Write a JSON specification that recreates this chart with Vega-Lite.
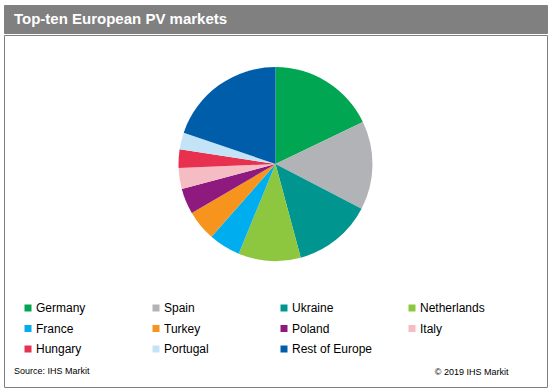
{
  "$schema": "https://vega.github.io/schema/vega-lite/v6.json",
  "padding": {"left": 3, "top": 4, "right": 6, "bottom": 7},
  "background": "white",
  "spacing": 0,
  "title": {"text": "© 2019 IHS Markit", "orient": "bottom", "anchor": "end", "offset": -20, "dx": -39, "fontSize": 9, "font": "Liberation Sans", "fontWeight": "normal", "color": "#000000"},
  "config": {"font": "Liberation Sans", "view": {"stroke": "#808080"}},
  "vconcat": [
    {
      "width": 543,
      "height": 28,
      "view": {"fill": "#808080", "stroke": "#808080"},
      "title": {"text": "Top-ten European PV markets", "orient": "top", "anchor": "start", "offset": -22, "dx": 10, "color": "#ffffff", "fontSize": 15, "fontWeight": "bold", "font": "Liberation Sans"},
      "data": {"values": []},
      "mark": "point"
    },
    {
      "width": 543,
      "height": 352,
      "view": {"stroke": "#808080"},
      "title": {"text": "Source: IHS Markit", "orient": "bottom", "anchor": "start", "offset": -20, "dx": 10, "fontSize": 9, "font": "Liberation Sans", "fontWeight": "normal", "color": "#000000"},
      "data": {"values": [
        {"market": "Germany", "rank": 1, "share": 17.9},
        {"market": "Spain", "rank": 2, "share": 14.8},
        {"market": "Ukraine", "rank": 3, "share": 13.2},
        {"market": "Netherlands", "rank": 4, "share": 10.4},
        {"market": "France", "rank": 5, "share": 5.3},
        {"market": "Turkey", "rank": 6, "share": 5.1},
        {"market": "Poland", "rank": 7, "share": 4.3},
        {"market": "Italy", "rank": 8, "share": 3.5},
        {"market": "Hungary", "rank": 9, "share": 3.1},
        {"market": "Portugal", "rank": 10, "share": 2.8},
        {"market": "Rest of Europe", "rank": 11, "share": 19.8}
      ]},
      "mark": {"type": "arc", "outerRadius": 97, "yOffset": -47},
      "encoding": {
        "theta": {"field": "share", "type": "quantitative", "stack": true},
        "order": {"field": "rank", "type": "quantitative"},
        "color": {
          "field": "market",
          "type": "nominal",
          "scale": {
            "domain": ["Germany", "Spain", "Ukraine", "Netherlands", "France", "Turkey", "Poland", "Italy", "Hungary", "Portugal", "Rest of Europe"],
            "range": ["#00a651", "#b1b3b6", "#00968f", "#8dc63f", "#00aeef", "#f7941d", "#8e1a80", "#f6bcc4", "#e8304f", "#c3e4f6", "#005daa"]
          },
          "legend": {
            "orient": "none", "legendX": 18, "legendY": 297, "columns": 4, "direction": "horizontal", "gridAlign": "all",
            "columnPadding": 33, "rowPadding": 8.5, "symbolType": "square", "symbolSize": 49,
            "symbolStrokeWidth": 0, "labelFontSize": 12, "labelFont": "Liberation Sans", "labelColor": "#000000",
            "labelOffset": 2, "title": null, "padding": 0
          }
        }
      }
    }
  ]
}
